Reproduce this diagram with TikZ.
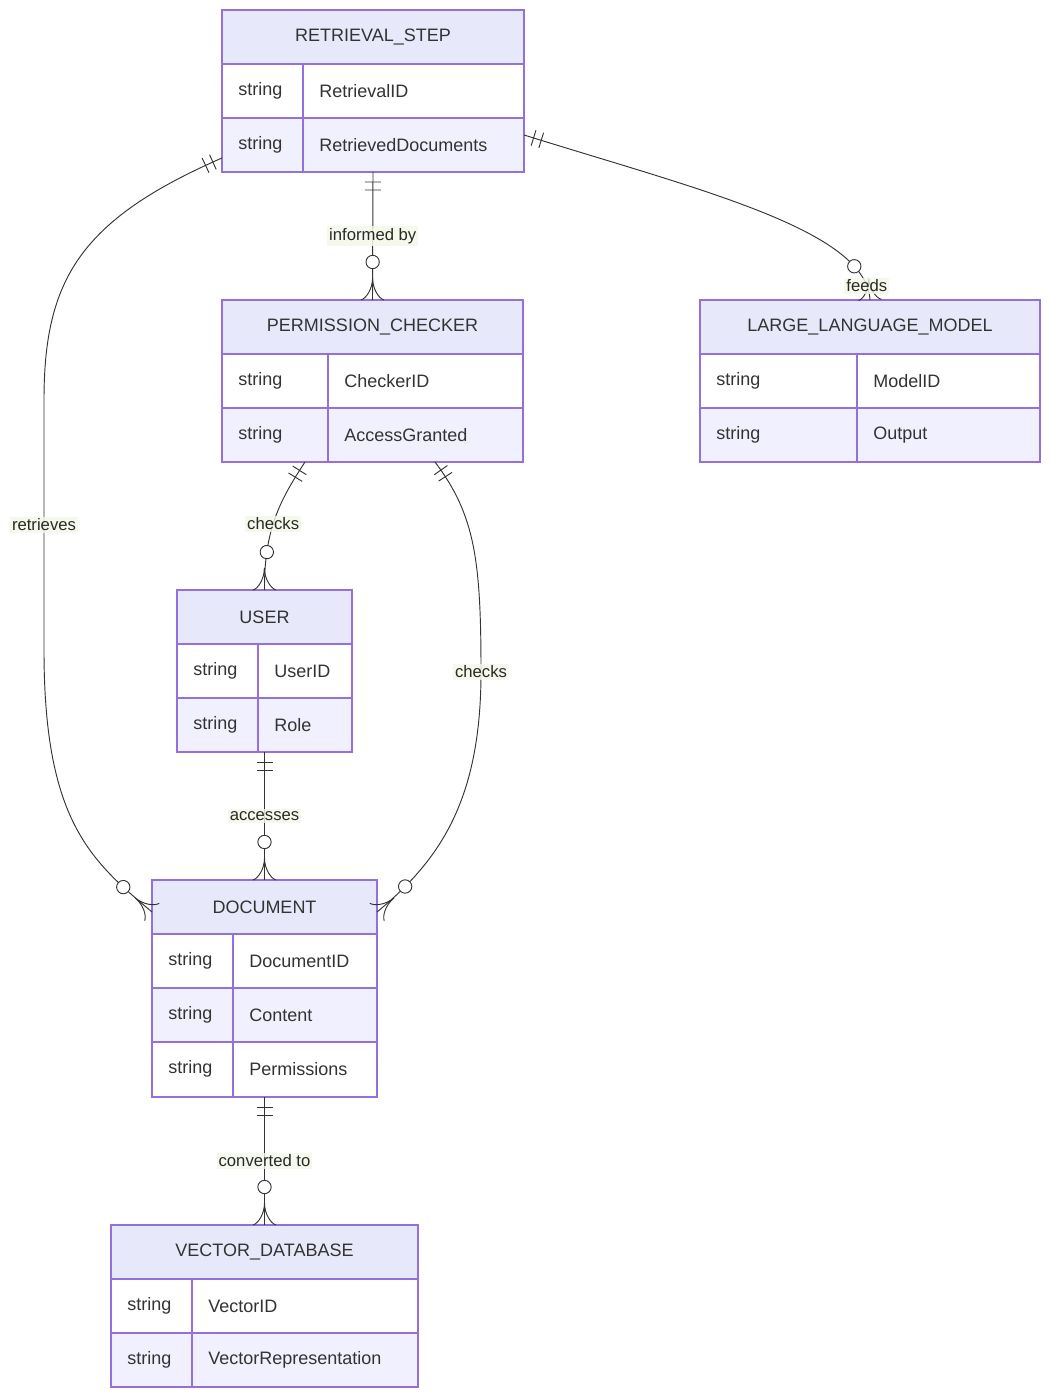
\documentclass[tikz,border=0pt]{standalone}
\usepackage{fontspec}
\setmainfont{Liberation Sans}
\usetikzlibrary{calc,decorations.markings}
\definecolor{erline}{HTML}{9370DB}
\definecolor{erhead}{HTML}{E8E8FB}
\definecolor{errow}{HTML}{F1F0FF}
\definecolor{ertext}{HTML}{333333}
\definecolor{lblbg}{HTML}{F3F8E6}

\tikzset{
  ettl/.style={text=ertext, font=\fontsize{13.5}{16}\selectfont, inner sep=0pt},
  eatt/.style={ettl, anchor=west},
  lbl/.style={fill=lblbg, fill opacity=0.8, text opacity=1, text=ertext!80!black,
    font=\fontsize{12.5}{15}\selectfont, inner sep=1.5pt},
  rel/.style={draw=ertext, line width=0.7pt,
    decoration={markings,
      mark=at position 7.5pt with {\draw[line width=0.7pt] (0,-6pt) -- (0,6pt);},
      mark=at position 13.5pt with {\draw[line width=0.7pt] (0,-6pt) -- (0,6pt);},
      mark=at position -28.5pt with {\draw[line width=0.7pt, fill=white] (0,0) circle (5pt);},
      mark=at position -0.05pt with {\draw[line width=0.7pt] (-16.5pt,0) .. controls (-8pt,0pt) and (-1pt,5pt) .. (0,8.5pt)
        (-16.5pt,0) .. controls (-8pt,0pt) and (-1pt,-5pt) .. (0,-8.5pt);}},
    postaction=decorate}
}

% name, left, top, right, bottom, divider, title, attributes
\newcommand\erentity[8]{%
  \fill[erhead] (#2,#3) rectangle (#4,#3+54);
  \node[ettl] (#1) at ({(#2+#4)/2},#3+27) {#7};
  \foreach \att [count=\i] in {#8} {
    \ifodd\i\def\rowcol{white}\else\def\rowcol{errow}\fi
    \fill[\rowcol] (#2,#3+54*\i) rectangle (#4,#3+54*\i+54);
    \node[eatt] (#1-t\i) at (#2+16,#3+54*\i+27) {string};
    \node[eatt] (#1-a\i) at (#6+16,#3+54*\i+27) {\att};
    \draw[erline, line width=0.9pt] (#2,#3+54*\i) -- (#4,#3+54*\i);
  }
  \draw[erline, line width=0.9pt] (#2,#3) rectangle (#4,#5) (#6,#3+54) -- (#6,#5);
  \coordinate (#1 nw) at (#2,#3);
  \coordinate (#1 se) at (#4,#5);
  \coordinate (#1 n) at ({(#2+#4)/2},#3);
  \coordinate (#1 s) at ({(#2+#4)/2},#5);
}

\begin{document}
\begin{tikzpicture}[x=0.75pt, y=-0.75pt]
\useasboundingbox (0,0) rectangle (1050,1398);

\erentity{rs}{222}{10}{524}{172}{303}{RETRIEVAL\_STEP}{RetrievalID,RetrievedDocuments}
\erentity{pc}{222}{300}{523}{462}{328}{PERMISSION\_CHECKER}{CheckerID,AccessGranted}
\erentity{llm}{700}{300}{1040}{462}{857}{LARGE\_LANGUAGE\_MODEL}{ModelID,Output}
\erentity{usr}{177}{590}{352}{752}{258}{USER}{UserID,Role}
\erentity{doc}{152}{880}{377}{1097}{233}{DOCUMENT}{DocumentID,Content,Permissions}
\erentity{vdb}{111}{1225}{418}{1387}{192}{VECTOR\_DATABASE}{VectorID,VectorRepresentation}

% relationships
\draw[rel] (rs s) -- node[lbl] {informed by} (pc n);
\draw[rel] ($(rs se)+(0,-37)$) .. controls (700,190) and (866,230) .. node[lbl, pos=0.93] {feeds} (llm n);
\draw[rel] ($(rs nw)+(0,148)$) .. controls (80,220) and (44,280) .. (44,400)
  -- node[lbl] {retrieves} (44,650) .. controls (44,820) and (90,860) .. ($(doc nw)+(0,32)$);
\draw[rel] ($(pc nw)+(83,162)$) .. controls (280,500) and (264,530) .. node[lbl, pos=0.55] {checks} (usr n);
\draw[rel] ($(pc se)+(-88,0)$) .. controls (475,515) and (481,560) .. (481,672)
  node[lbl] {checks} .. controls (481,800) and (440,860) .. ($(doc se)+(0,-185)$);
\draw[rel] (usr s) -- node[lbl] {accesses} (doc n);
\draw[rel] (doc s) -- node[lbl] {converted to} (vdb n);
\end{tikzpicture}
\end{document}
